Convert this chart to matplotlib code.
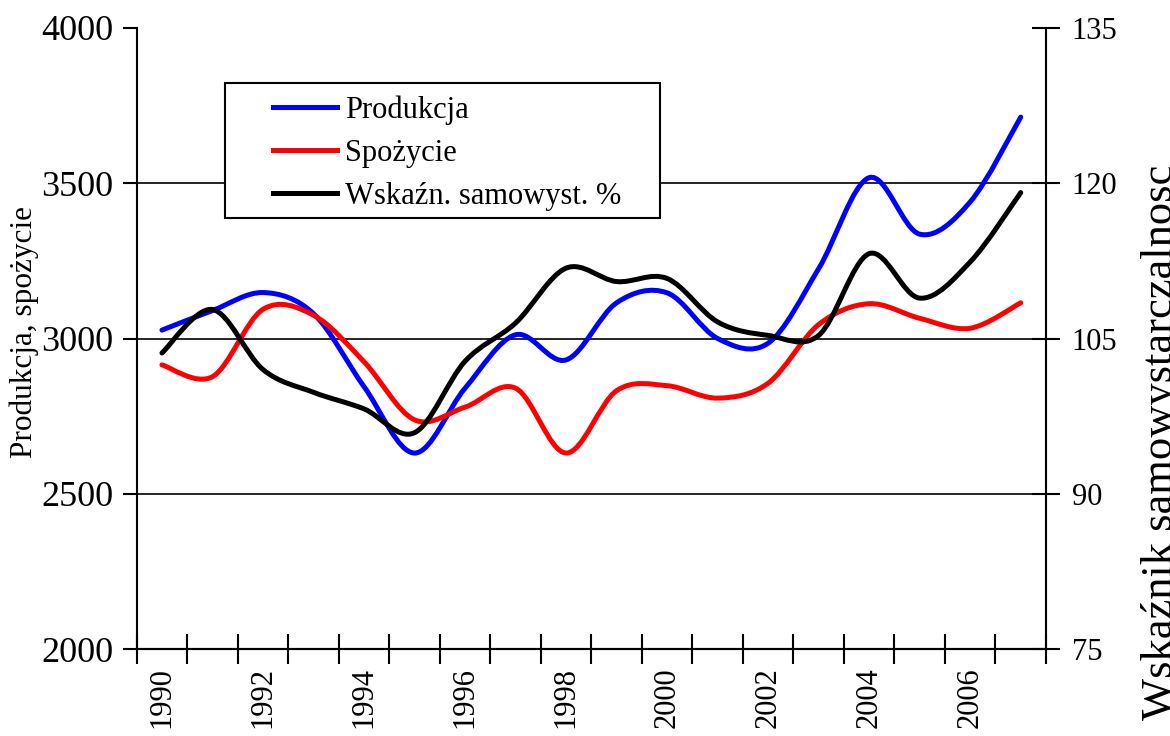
import matplotlib
matplotlib.use('Agg')
import matplotlib.pyplot as plt
import numpy as np
from matplotlib.path import Path
from matplotlib.patches import PathPatch, Rectangle
from matplotlib.lines import Line2D

plt.rcParams['font.family'] = ['Liberation Serif', 'DejaVu Serif']

# dane roczne
lata = list(range(1990, 2008))
produkcja = [3027, 3090, 3148, 3080, 2845, 2631, 2840, 3012, 2931, 3115,
             3147, 3000, 2985, 3225, 3518, 3336, 3440, 3713]
spozycie = [2915, 2877, 3094, 3075, 2925, 2738, 2779, 2840, 2631, 2832,
            2848, 2808, 2856, 3045, 3112, 3065, 3033, 3115]
wskaznik = [103.6, 107.8, 102.0, 99.8, 98.2, 95.9, 102.8, 106.5, 111.8, 110.5,
            110.8, 106.6, 105.3, 105.3, 113.2, 108.9, 112.4, 119.1]
etykiety_lat = ['1990', '1992', '1994', '1996', '1998', '2000', '2002', '2004', '2006']
nazwy = ['Produkcja', 'Spożycie', 'Wskaźn. samowyst. %']
kolory = ['#0000ff', '#ff0000', '#000000']


def gladka(x, y):
    # krzywa wygladzona jak w Excelu (odcinki Beziera przez punkty danych)
    p = np.column_stack([x, y]).astype(float)
    n = len(p)
    verts = [p[0]]
    codes = [Path.MOVETO]
    for i in range(n - 1):
        p0 = p[i - 1] if i > 0 else p[i]
        p1 = p[i]
        p2 = p[i + 1]
        p3 = p[i + 2] if i + 2 < n else p[i + 1]
        verts += [p1 + (p2 - p0) / 6, p2 - (p3 - p1) / 6, p2]
        codes += [Path.CURVE4] * 3
    return Path(verts, codes)


W, H = 1170, 736
fig = plt.figure(figsize=(W / 100, H / 100), dpi=100)
ax = fig.add_axes([136.7 / W, 1 - 649 / H, 909.3 / W, 621 / H])
ax2 = ax.twinx()

x = np.arange(len(lata))
lw = 3.6
ax.add_patch(PathPatch(gladka(x, produkcja), fc='none', ec=kolory[0], lw=lw,
                       capstyle='round', joinstyle='round', zorder=3))
ax.add_patch(PathPatch(gladka(x, spozycie), fc='none', ec=kolory[1], lw=lw,
                       capstyle='round', joinstyle='round', zorder=4))
ax2.add_patch(PathPatch(gladka(x, wskaznik), fc='none', ec=kolory[2], lw=lw,
                        capstyle='round', joinstyle='round', zorder=3))

# osie
ax.set_xlim(-0.5, len(lata) - 0.5)
ax.set_ylim(2000, 4000)
ax2.set_ylim(75, 135)
ax.set_yticks(np.arange(2000, 4001, 500))
ax2.set_yticks(np.arange(75, 136, 15))

ax.set_xticks(np.arange(-0.5, len(lata), 1))
ax.set_xticklabels([])
ax.set_xticks([lata.index(int(e)) for e in etykiety_lat], etykiety_lat, minor=True)
ax.tick_params(axis='x', which='major', direction='inout', length=21, width=1.5)
ax.tick_params(axis='x', which='minor', length=0, pad=13, labelsize=22, labelrotation=90)
ax.tick_params(axis='y', direction='out', length=10, width=1.5, pad=7, labelsize=26)
ax2.tick_params(axis='y', direction='inout', length=20, width=1.5, pad=8.5, labelsize=22)

ax.grid(axis='y', color='black', lw=1.2)
ax.get_ygridlines()[-1].set_visible(False)
ax.get_ygridlines()[0].set_visible(False)

for a in (ax, ax2):
    a.spines['top'].set_visible(False)
    for s in a.spines.values():
        s.set_linewidth(1.5)
ax.spines['right'].set_visible(False)
ax2.spines['left'].set_visible(False)

ax.set_ylabel('Produkcja, spożycie', fontsize=22.5)
ax.yaxis.set_label_coords(-0.107, 0.511)
ax2.set_ylabel('Wskaźnik samowystarczalnosc', fontsize=32)
ax2.yaxis.set_label_coords(1.1045, 0.333)

# legenda z ramka
ax2.add_patch(Rectangle((0.0971, 0.6936), 0.478, 0.2185, transform=ax2.transAxes,
                        fc='white', ec='black', lw=1.5, zorder=4))
uchwyty = [Line2D([], [], color=k, lw=lw) for k in kolory]
leg = ax2.legend(uchwyty, nazwy, loc='upper left', bbox_to_anchor=(0.150, 0.892),
                 frameon=False, fontsize=22, borderpad=0, borderaxespad=0,
                 handlelength=2.1, handletextpad=0.25, labelspacing=0.46)
leg.set_zorder(5)

fig.savefig('out.png', dpi=100)
